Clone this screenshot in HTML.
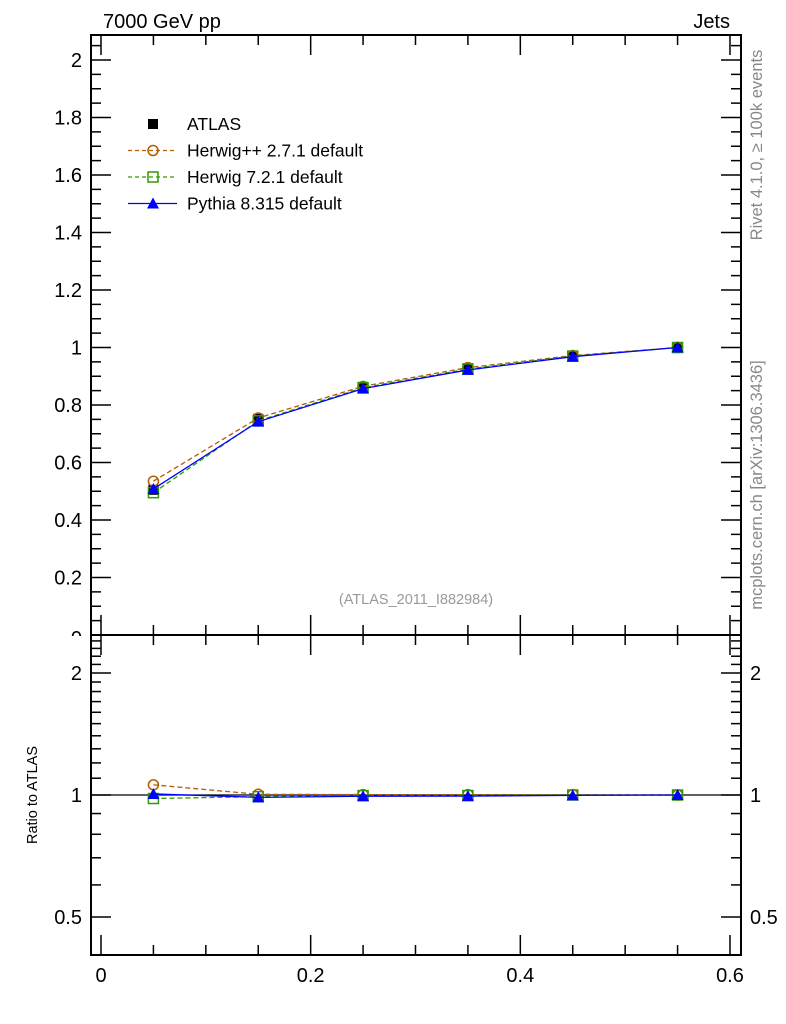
<!DOCTYPE html>
<html><head><meta charset="utf-8"><style>body{margin:0;background:#fff}svg{display:block;font-family:"Liberation Sans",sans-serif}</style></head>
<body>
<svg id="c" width="786" height="1024" xmlns="http://www.w3.org/2000/svg">
<text x="103" y="28" font-size="20">7000 GeV pp</text>
<text x="730" y="28" font-size="20" text-anchor="end">Jets</text>
<text transform="translate(762,145) rotate(-90)" font-size="16.5" fill="#888" text-anchor="middle">Rivet 4.1.0, ≥ 100k events</text>
<text transform="translate(762,485) rotate(-90)" font-size="16.5" fill="#888" text-anchor="middle">mcplots.cern.ch [arXiv:1306.3436]</text>
<text x="416" y="604" font-size="14.5" fill="#999" text-anchor="middle">(ATLAS_2011_I882984)</text>
<text transform="translate(37,795) rotate(-90)" font-size="14.5" text-anchor="middle">Ratio to ATLAS</text>
<g id="g"></g>
<rect x="60" y="636" width="30" height="20" fill="#fff"/>
</svg>
<script>
const xs=[0.05,0.15,0.25,0.35,0.45,0.55];
const atlas=[0.505,0.752,0.863,0.928,0.970,1.0];
const hpp=[0.535,0.755,0.865,0.930,0.972,1.0];
const h7=[0.495,0.745,0.860,0.925,0.970,1.0];
const py=[0.508,0.742,0.857,0.922,0.968,1.0];
const yTicks=[0,0.2,0.4,0.6,0.8,1,1.2,1.4,1.6,1.8,2];
const yTickLabels=["0","0.2","0.4","0.6","0.8","1","1.2","1.4","1.6","1.8","2"];
const rTicks=[0.5,1,2];
const xTicks=[0,0.2,0.4,0.6];
const L=91,R=741,T=35,M=635,B=955;
const X=v=>101+v*1048.3;
const Y=v=>635-v*287.5;
const RY=v=>795-Math.log2(v)*122;
const NS="http://www.w3.org/2000/svg";
const g=document.getElementById('g');
function el(t,a,p){const e=document.createElementNS(NS,t);for(const k in a)e.setAttribute(k,a[k]);(p||g).appendChild(e);return e;}
let f=el('rect',{x:L,y:T,width:R-L,height:M-T,fill:'none',stroke:'#000','stroke-width':2});


f=el('rect',{x:L,y:M,width:R-L,height:B-M,fill:'none',stroke:'#000','stroke-width':2});


for(let i=0;i<=13;i++){const v=i*0.05;const x=X(v);if(x>R)break;const big=i%4==0;const len=big?20:10;
[[T,1],[M,-1],[M,1],[B,-1]].forEach(([y0,d])=>el('line',{x1:x,x2:x,y1:y0,y2:y0+d*len,stroke:'#000','stroke-width':1.5}));}
xTicks.forEach(v=>{const t=el('text',{x:X(v),y:982,'font-size':20,'text-anchor':'middle'});t.textContent=String(v);

});
for(let i=0;i<=41;i++){const v=i*0.05;const y=Y(v);if(y<T)break;const big=i%4==0;const len=big?20:10;
el('line',{x1:L,x2:L+len,y1:y,y2:y,stroke:'#000','stroke-width':1.5});el('line',{x1:R,x2:R-len,y1:y,y2:y,stroke:'#000','stroke-width':1.5});}
yTicks.forEach((v,i)=>{const t=el('text',{x:82,y:Y(v)+7+(v===0?3:0),'font-size':20,'text-anchor':'end'});t.textContent=yTickLabels[i];

});
const minor=[0.4,0.5,0.6,0.7,0.8,0.9,1,1.1,1.2,1.3,1.4,1.5,1.6,1.7,1.8,1.9,2,2.1,2.2,2.3,2.4];
minor.forEach(v=>{const y=RY(v);if(y<M||y>B)return;const big=rTicks.includes(v);const len=big?20:10;
el('line',{x1:L,x2:L+len,y1:y,y2:y,stroke:'#000','stroke-width':1.5});el('line',{x1:R,x2:R-len,y1:y,y2:y,stroke:'#000','stroke-width':1.5});});
rTicks.forEach(v=>{[[82,'end'],[750,'start']].forEach(([x,a])=>{const t=el('text',{x:x,y:RY(v)+7,'font-size':20,'text-anchor':a});t.textContent=String(v);

});});
el('line',{x1:L,x2:R,y1:RY(1),y2:RY(1),stroke:'#000','stroke-width':1.2});
const series=[
 {d:hpp,c:'#b35c00',dash:'5,3',m:'circle',n:'herwigpp'},
 {d:h7,c:'#339900',dash:'5,3',m:'square',n:'herwig7'},
 {d:py,c:'#0000ff',dash:null,m:'tri',n:'pythia'}];
function marker(m,x,y,c){let e;
 if(m=='circle')e=el('circle',{cx:x,cy:y,r:5,fill:'none',stroke:c,'stroke-width':1.5});
 else if(m=='square')e=el('rect',{x:x-5,y:y-5,width:10,height:10,fill:'none',stroke:c,'stroke-width':1.5});
 else if(m=='tri')e=el('polygon',{points:`${x},${y-6} ${x-6},${y+5} ${x+6},${y+5}`,fill:c});
 else e=el('rect',{x:x-5,y:y-5,width:10,height:10,fill:'#000'});
 return e;}
atlas.forEach((v,i)=>{const e=marker('atlas',X(xs[i]),Y(v),'#000');

});
series.forEach(s=>{
 const pts=s.d.map((v,i)=>X(xs[i])+','+Y(v)).join(' ');
 const pl=el('polyline',{points:pts,fill:'none',stroke:s.c,'stroke-width':1.3});if(s.dash)pl.setAttribute('stroke-dasharray',s.dash);
 
 
 const rp=s.d.map((v,i)=>X(xs[i])+','+RY(v/atlas[i])).join(' ');
 const rl=el('polyline',{points:rp,fill:'none',stroke:s.c,'stroke-width':1.3});if(s.dash)rl.setAttribute('stroke-dasharray',s.dash);
 
 
 s.d.forEach((v,i)=>{const e=marker(s.m,X(xs[i]),Y(v),s.c);
  
  
  const r=marker(s.m,X(xs[i]),RY(v/atlas[i]),s.c);
  
  });
});
const leg=[{n:'ATLAS',m:'atlas',c:'#000',dash:null,line:false},
 {n:'Herwig++ 2.7.1 default',m:'circle',c:'#b35c00',dash:'4,3',line:true},
 {n:'Herwig 7.2.1 default',m:'square',c:'#339900',dash:'4,3',line:true},
 {n:'Pythia 8.315 default',m:'tri',c:'#0000ff',dash:null,line:true}];
leg.forEach((l,i)=>{const y=124+i*26.5;
 if(l.line){const ln=el('line',{x1:128,x2:177,y1:y,y2:y,stroke:l.c,'stroke-width':1.3});if(l.dash)ln.setAttribute('stroke-dasharray',l.dash);}
 marker(l.m,153,y,l.c);
 const t=el('text',{x:187,y:y+6,'font-size':17.5});t.textContent=l.n;
 
 });
</script>
</body></html>
